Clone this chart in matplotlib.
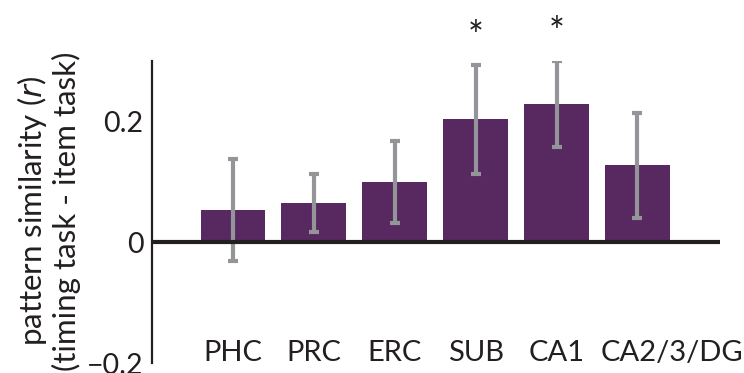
import matplotlib
matplotlib.use("Agg")
import matplotlib.pyplot as plt
import numpy as np

plt.rcParams['font.family'] = ['Lato', 'DejaVu Sans']

regions = ["PHC", "PRC", "ERC", "SUB", "CA1", "CA2/3/DG"]
similarity = [0.053, 0.064, 0.100, 0.203, 0.228, 0.127]
sem = [0.085, 0.048, 0.068, 0.090, 0.071, 0.087]
significant = [False, False, False, True, True, False]

bar_color = "#582860"
err_color = "#939598"
ink = "#231f20"

fig = plt.figure(figsize=(7.44, 3.73), dpi=100)
ax = fig.add_axes([0.2043, 0.0268, 0.7634, 0.8102])

x = np.arange(len(regions))
ax.bar(x, similarity, width=0.8, color=bar_color, zorder=1)
ax.errorbar(x, similarity, yerr=sem, fmt="none", ecolor=err_color,
            elinewidth=3, capsize=3.3, capthick=3, zorder=2)
ax.axhline(0, color=ink, lw=3, zorder=3)

for xi, yi, e, sig in zip(x, similarity, sem, significant):
    if sig:
        ax.text(xi, yi + e + 0.045, "*", ha="center", va="center",
                fontsize=27, color=ink, clip_on=False)

ax.set_xlim(-1.0, 6.02)
ax.set_ylim(-0.2, 0.3)
ax.set_yticks([-0.2, 0, 0.2])
ax.set_yticklabels(["\u22120.2", "0", "0.2"])
ax.tick_params(axis="y", length=0, pad=6, labelsize=20.5, colors=ink)
ax.set_xticks([])

for side in ("top", "right", "bottom"):
    ax.spines[side].set_visible(False)
ax.spines["left"].set_linewidth(1.6)
ax.spines["left"].set_color(ink)

# category names sit just above the lower edge of the axes
trans = ax.get_xaxis_transform()
for i, name in enumerate(regions):
    if i == len(regions) - 1:
        ax.text(i - 0.46, 0.033, name, ha="left", va="center",
                fontsize=21, color=ink, transform=trans)
    else:
        ax.text(i, 0.033, name, ha="center", va="center",
                fontsize=21, color=ink, transform=trans)

fig.text(48 / 744, 1 - 211 / 373,
         "pattern similarity ($r$)\n(timing task - item task)",
         rotation=90, ha="center", va="center", multialignment="center",
         fontsize=22.5, color=ink, linespacing=1.1)

fig.savefig("out.png", dpi=100)
